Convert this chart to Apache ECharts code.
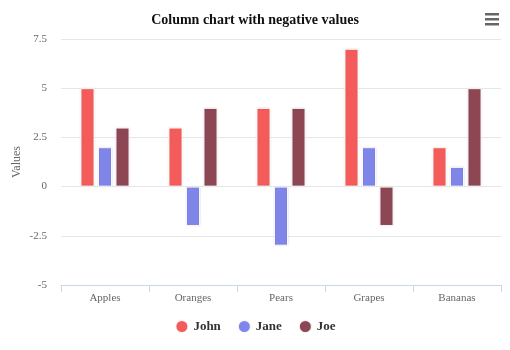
<!DOCTYPE html>
<html>
<head>
<meta charset="utf-8">
<script src="https://cdn.jsdelivr.net/npm/echarts@6/dist/echarts.min.js"></script>
<style>
  html, body { margin: 0; padding: 0; background: #fff; }
  #main { width: 510px; height: 350px; }
</style>
</head>
<body>
<div id="main"></div>
<script>
var categories = ['Apples', 'Oranges', 'Pears', 'Grapes', 'Bananas']
var john = [5, 3, 4, 7, 2]
var jane = [2, -2, -3, 2, 1]
var joe = [3, 4, 4, -2, 5]
var colors = ['#f45b5b', '#8085e9', '#8d4654']

var chart = echarts.init(document.getElementById('main'))

function barSeries(name, data, color) {
  return {
    name: name,
    type: 'bar',
    data: data,
    barWidth: 14,
    barGap: '25%',
    itemStyle: {
      color: color,
      borderColor: 'rgba(255,255,255,0.9)',
      borderWidth: 1,
      shadowColor: 'rgba(0,0,0,0.12)',
      shadowBlur: 2
    }
  }
}

chart.setOption({
  animation: false,
  textStyle: { fontFamily: 'Liberation Serif' },
  title: {
    text: 'Column chart with negative values',
    left: 'center',
    top: 8,
    textStyle: { fontFamily: 'Liberation Serif', fontSize: 14, fontWeight: 'bold', color: '#111' }
  },
  graphic: [
    { type: 'rect', right: 11, top: 13, shape: { width: 14, height: 2.5 }, style: { fill: '#666' } },
    { type: 'rect', right: 11, top: 18, shape: { width: 14, height: 2.5 }, style: { fill: '#666' } },
    { type: 'rect', right: 11, top: 23, shape: { width: 14, height: 2.5 }, style: { fill: '#666' } }
  ],
  legend: {
    bottom: 11,
    left: 'center',
    icon: 'circle',
    itemWidth: 13,
    itemHeight: 13,
    itemGap: 16,
    textStyle: { fontFamily: 'Liberation Serif', fontSize: 13, fontWeight: 'bold', color: '#333' },
    data: ['John', 'Jane', 'Joe']
  },
  grid: { left: 61, right: 9, top: 39, bottom: 65 },
  xAxis: {
    type: 'category',
    data: categories,
    axisLine: { onZero: false, lineStyle: { color: '#ccd6eb' } },
    axisTick: { show: true, length: 7, lineStyle: { color: '#ccd6eb' } },
    axisLabel: { color: '#666', fontSize: 11, fontFamily: 'Liberation Serif', margin: 8 }
  },
  yAxis: {
    type: 'value',
    min: -5,
    max: 7.5,
    interval: 2.5,
    name: 'Values',
    nameLocation: 'middle',
    nameGap: 38,
    nameMoveOverlap: false,
    nameTextStyle: { color: '#666', fontSize: 12, fontFamily: 'Liberation Serif' },
    axisLine: { show: false },
    axisTick: { show: false },
    axisLabel: { color: '#666', fontSize: 11, fontFamily: 'Liberation Serif', margin: 14 },
    splitLine: { lineStyle: { color: '#e6e6e6' } }
  },
  series: [
    barSeries('John', john, colors[0]),
    barSeries('Jane', jane, colors[1]),
    barSeries('Joe', joe, colors[2])
  ]
})
</script>
</body>
</html>
